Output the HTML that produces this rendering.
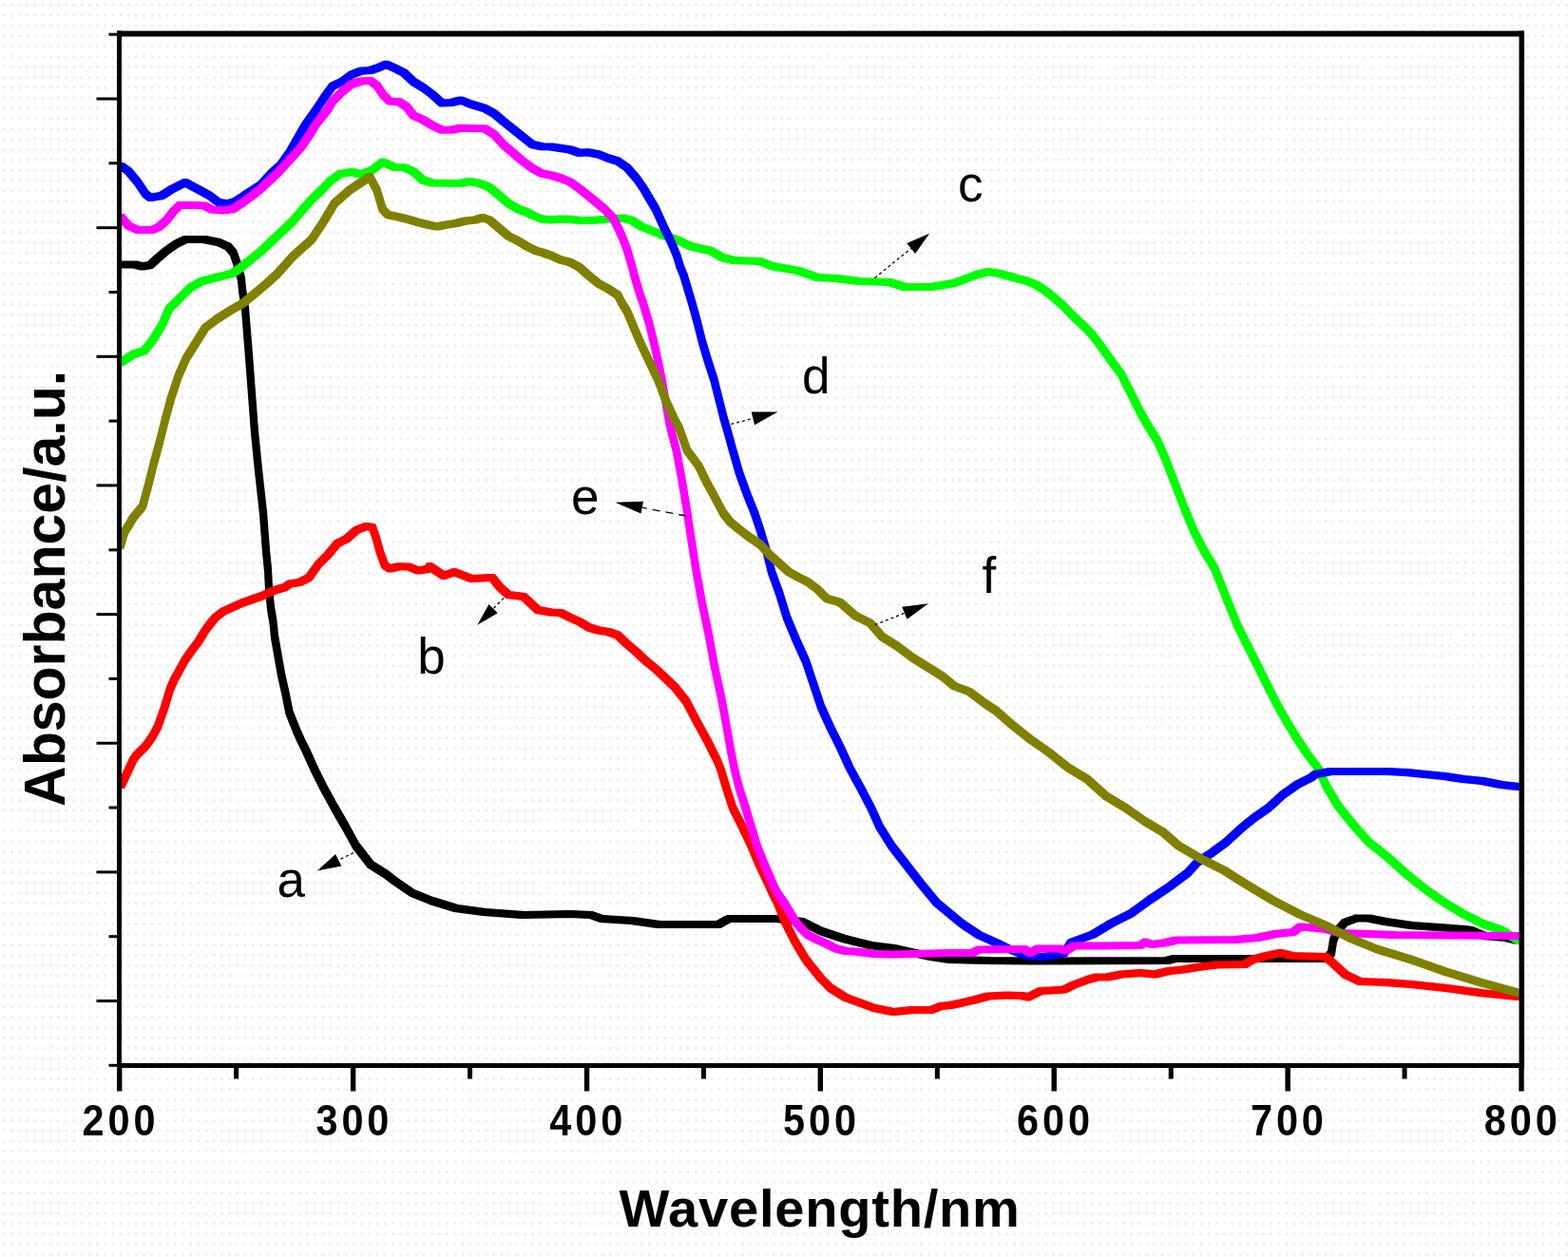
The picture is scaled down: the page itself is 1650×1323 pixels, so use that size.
<!DOCTYPE html>
<html><head><meta charset="utf-8"><title>Absorbance spectra</title>
<style>
html,body{margin:0;padding:0;background:#fff;}
body{width:1650px;height:1323px;overflow:hidden;}
svg{display:block;}
.tl{font-family:"Liberation Sans",Arial,sans-serif;font-weight:bold;font-size:46px;letter-spacing:4.4px;fill:#000;}
.ti{font-family:"Liberation Sans",Arial,sans-serif;font-weight:bold;fill:#000;}
.lb{font-family:"Liberation Sans",Arial,sans-serif;font-size:53px;fill:#000;}
</style></head><body>
<svg width="1650" height="1323" viewBox="0 0 1650 1323">
<defs><pattern id="dots" x="3" y="4" width="8.18" height="10.87" patternUnits="userSpaceOnUse"><rect x="0" y="0" width="2.6" height="2.6" fill="#ececec"/></pattern></defs>
<rect width="1650" height="1323" fill="#fff"/>
<rect width="1650" height="1323" fill="url(#dots)"/>
<path fill="#000000" stroke="#000000" stroke-width="4.4" stroke-linejoin="round" fill-rule="nonzero" d="M126.2 276.7L143.8 276.7L143.8 280.3L126.2 280.3ZM140.2 276.7L143.8 276.7L151.8 278.7L151.8 282.3L148.2 282.3L140.2 280.3ZM148.2 278.7L156.2 277.2L159.8 277.2L159.8 280.8L151.8 282.3L148.2 282.3ZM156.2 277.2L163.2 270.7L166.8 270.7L166.8 274.3L159.8 280.8L156.2 280.8ZM163.2 270.7L173.2 262.2L176.8 262.2L176.8 265.8L166.8 274.3L163.2 274.3ZM173.2 262.2L183.2 255.2L186.8 255.2L186.8 258.8L176.8 265.8L173.2 265.8ZM183.2 255.2L193.2 250.2L196.8 250.2L196.8 253.8L186.8 258.8L183.2 258.8ZM193.2 250.2L216.8 250.2L216.8 253.8L193.2 253.8ZM213.2 250.2L216.8 250.2L231.8 253.2L231.8 256.8L228.2 256.8L213.2 253.8ZM228.2 253.2L231.8 253.2L241.8 257.7L241.8 261.3L238.2 261.3L228.2 256.8ZM238.2 257.7L241.8 257.7L247.3 264.2L247.3 267.8L243.7 267.8L238.2 261.3ZM243.7 264.2L247.3 264.2L250.8 274.2L250.8 277.8L247.2 277.8L243.7 267.8ZM247.2 274.2L250.8 274.2L255.8 292.2L255.8 295.8L252.2 295.8L247.2 277.8ZM252.2 292.2L255.8 292.2L256.8 303.2L256.8 306.8L253.2 306.8L252.2 295.8ZM253.2 303.2L256.8 303.2L259.8 323.2L259.8 326.8L256.2 326.8L253.2 306.8ZM256.2 323.2L259.8 323.2L263.8 373.2L263.8 376.8L260.2 376.8L256.2 326.8ZM260.2 373.2L263.8 373.2L266.8 413.2L266.8 416.8L263.2 416.8L260.2 376.8ZM263.2 413.2L266.8 413.2L269.8 453.2L269.8 456.8L266.2 456.8L263.2 416.8ZM266.2 453.2L269.8 453.2L273.8 493.2L273.8 496.8L270.2 496.8L266.2 456.8ZM270.2 493.2L273.8 493.2L278.8 538.2L278.8 541.8L275.2 541.8L270.2 496.8ZM275.2 538.2L278.8 538.2L280.3 558.2L280.3 561.8L276.7 561.8L275.2 541.8ZM276.7 558.2L280.3 558.2L281.8 578.2L281.8 581.8L278.2 581.8L276.7 561.8ZM278.2 578.2L281.8 578.2L283.8 598.2L283.8 601.8L280.2 601.8L278.2 581.8ZM280.2 598.2L283.8 598.2L284.8 618.2L284.8 621.8L281.2 621.8L280.2 601.8ZM281.2 618.2L284.8 618.2L286.8 638.2L286.8 641.8L283.2 641.8L281.2 621.8ZM283.2 638.2L286.8 638.2L289.3 653.2L289.3 656.8L285.7 656.8L283.2 641.8ZM285.7 653.2L289.3 653.2L290.8 668.2L290.8 671.8L287.2 671.8L285.7 656.8ZM287.2 668.2L290.8 668.2L294.3 688.2L294.3 691.8L290.7 691.8L287.2 671.8ZM290.7 688.2L294.3 688.2L297.8 708.2L297.8 711.8L294.2 711.8L290.7 691.8ZM294.2 708.2L297.8 708.2L302.3 728.2L302.3 731.8L298.7 731.8L294.2 711.8ZM298.7 728.2L302.3 728.2L306.3 748.2L306.3 751.8L302.7 751.8L298.7 731.8ZM302.7 748.2L306.3 748.2L314.3 768.2L314.3 771.8L310.7 771.8L302.7 751.8ZM310.7 768.2L314.3 768.2L318.8 778.2L318.8 781.8L315.2 781.8L310.7 771.8ZM315.2 778.2L318.8 778.2L323.8 788.2L323.8 791.8L320.2 791.8L315.2 781.8ZM320.2 788.2L323.8 788.2L332.8 808.2L332.8 811.8L329.2 811.8L320.2 791.8ZM329.2 808.2L332.8 808.2L342.8 828.2L342.8 831.8L339.2 831.8L329.2 811.8ZM339.2 828.2L342.8 828.2L353.8 848.2L353.8 851.8L350.2 851.8L339.2 831.8ZM350.2 848.2L353.8 848.2L365.3 868.2L365.3 871.8L361.7 871.8L350.2 851.8ZM361.7 868.2L365.3 868.2L376.3 888.2L376.3 891.8L372.7 891.8L361.7 871.8ZM372.7 888.2L376.3 888.2L391.8 908.2L391.8 911.8L388.2 911.8L372.7 891.8ZM388.2 908.2L391.8 908.2L407.8 918.2L407.8 921.8L404.2 921.8L388.2 911.8ZM404.2 918.2L407.8 918.2L416.8 925.2L416.8 928.8L413.2 928.8L404.2 921.8ZM413.2 925.2L416.8 925.2L435.8 938.2L435.8 941.8L432.2 941.8L413.2 928.8ZM432.2 938.2L435.8 938.2L455.8 946.2L455.8 949.8L452.2 949.8L432.2 941.8ZM452.2 946.2L455.8 946.2L481.8 954.2L481.8 957.8L478.2 957.8L452.2 949.8ZM478.2 954.2L481.8 954.2L511.8 958.2L511.8 961.8L508.2 961.8L478.2 957.8ZM508.2 958.2L511.8 958.2L551.8 961.2L551.8 964.8L548.2 964.8L508.2 961.8ZM548.2 961.2L598.2 960.2L601.8 960.2L601.8 963.8L551.8 964.8L548.2 964.8ZM598.2 960.2L601.8 960.2L623.8 961.2L623.8 964.8L620.2 964.8L598.2 963.8ZM620.2 961.2L623.8 961.2L634.8 965.2L634.8 968.8L631.2 968.8L620.2 964.8ZM631.2 965.2L634.8 965.2L666.8 967.2L666.8 970.8L663.2 970.8L631.2 968.8ZM663.2 967.2L666.8 967.2L694.8 971.2L694.8 974.8L691.2 974.8L663.2 970.8ZM691.2 971.2L757.8 971.2L757.8 974.8L691.2 974.8ZM754.2 971.2L765.2 965.2L768.8 965.2L768.8 968.8L757.8 974.8L754.2 974.8ZM765.2 965.2L819.8 965.2L819.8 968.8L765.2 968.8ZM816.2 965.2L819.8 965.2L845.8 968.2L845.8 971.8L842.2 971.8L816.2 968.8ZM842.2 968.2L845.8 968.2L865.8 978.2L865.8 981.8L862.2 981.8L842.2 971.8ZM862.2 978.2L865.8 978.2L889.8 986.2L889.8 989.8L886.2 989.8L862.2 981.8ZM886.2 986.2L889.8 986.2L917.8 993.2L917.8 996.8L914.2 996.8L886.2 989.8ZM914.2 993.2L917.8 993.2L941.8 996.2L941.8 999.8L938.2 999.8L914.2 996.8ZM938.2 996.2L941.8 996.2L981.8 1005.2L981.8 1008.8L978.2 1008.8L938.2 999.8ZM978.2 1005.2L981.8 1005.2L1001.8 1008.2L1001.8 1011.8L998.2 1011.8L978.2 1008.8ZM998.2 1008.2L1001.8 1008.2L1041.8 1009.2L1041.8 1012.8L1038.2 1012.8L998.2 1011.8ZM1038.2 1009.2L1041.8 1009.2L1088.8 1009.7L1088.8 1013.3L1085.2 1013.3L1038.2 1012.8ZM1085.2 1009.7L1226.2 1009.2L1229.8 1009.2L1229.8 1012.8L1088.8 1013.3L1085.2 1013.3ZM1226.2 1009.2L1234.2 1007.2L1237.8 1007.2L1237.8 1010.8L1229.8 1012.8L1226.2 1012.8ZM1234.2 1007.2L1397.8 1007.2L1397.8 1010.8L1234.2 1010.8ZM1394.2 1007.2L1399.2 1001.2L1402.8 1001.2L1402.8 1004.8L1397.8 1010.8L1394.2 1010.8ZM1399.2 1001.2L1401.2 988.2L1404.8 988.2L1404.8 991.8L1402.8 1004.8L1399.2 1004.8ZM1401.2 988.2L1405.2 978.2L1408.8 978.2L1408.8 981.8L1404.8 991.8L1401.2 991.8ZM1405.2 978.2L1413.2 969.2L1416.8 969.2L1416.8 972.8L1408.8 981.8L1405.2 981.8ZM1413.2 969.2L1425.2 964.7L1428.8 964.7L1428.8 968.3L1416.8 972.8L1413.2 972.8ZM1425.2 964.7L1441.8 964.7L1441.8 968.3L1425.2 968.3ZM1438.2 964.7L1441.8 964.7L1459.8 968.2L1459.8 971.8L1456.2 971.8L1438.2 968.3ZM1456.2 968.2L1459.8 968.2L1486.8 972.2L1486.8 975.8L1483.2 975.8L1456.2 971.8ZM1483.2 972.2L1486.8 972.2L1514.8 974.2L1514.8 977.8L1511.2 977.8L1483.2 975.8ZM1511.2 974.2L1514.8 974.2L1541.8 976.2L1541.8 979.8L1538.2 979.8L1511.2 977.8ZM1538.2 976.2L1541.8 976.2L1549.8 977.2L1549.8 980.8L1546.2 980.8L1538.2 979.8ZM1546.2 977.2L1549.8 977.2L1563.8 983.2L1563.8 986.8L1560.2 986.8L1546.2 980.8ZM1560.2 983.2L1563.8 983.2L1586.8 985.2L1586.8 988.8L1583.2 988.8L1560.2 986.8ZM1583.2 985.2L1586.8 985.2L1599.8 988.2L1599.8 991.8L1596.2 991.8L1583.2 988.8Z"/>
<path fill="#ff0000" stroke="#ff0000" stroke-width="4.4" stroke-linejoin="round" fill-rule="nonzero" d="M126.2 824.2L132.2 811.2L135.8 811.2L135.8 814.8L129.8 827.8L126.2 827.8ZM132.2 811.2L138.2 798.2L141.8 798.2L141.8 801.8L135.8 814.8L132.2 814.8ZM138.2 798.2L141.7 793.2L145.3 793.2L145.3 796.8L141.8 801.8L138.2 801.8ZM141.7 793.2L151.7 783.2L155.3 783.2L155.3 786.8L145.3 796.8L141.7 796.8ZM151.7 783.2L158.7 773.2L162.3 773.2L162.3 776.8L155.3 786.8L151.7 786.8ZM158.7 773.2L164.2 763.2L167.8 763.2L167.8 766.8L162.3 776.8L158.7 776.8ZM164.2 763.2L167.7 753.2L171.3 753.2L171.3 756.8L167.8 766.8L164.2 766.8ZM167.7 753.2L171.2 743.2L174.8 743.2L174.8 746.8L171.3 756.8L167.7 756.8ZM171.2 743.2L174.2 733.2L177.8 733.2L177.8 736.8L174.8 746.8L171.2 746.8ZM174.2 733.2L177.2 723.2L180.8 723.2L180.8 726.8L177.8 736.8L174.2 736.8ZM177.2 723.2L181.7 713.2L185.3 713.2L185.3 716.8L180.8 726.8L177.2 726.8ZM181.7 713.2L187.2 703.2L190.8 703.2L190.8 706.8L185.3 716.8L181.7 716.8ZM187.2 703.2L192.7 693.2L196.3 693.2L196.3 696.8L190.8 706.8L187.2 706.8ZM192.7 693.2L199.7 683.2L203.3 683.2L203.3 686.8L196.3 696.8L192.7 696.8ZM199.7 683.2L207.2 673.2L210.8 673.2L210.8 676.8L203.3 686.8L199.7 686.8ZM207.2 673.2L213.2 663.2L216.8 663.2L216.8 666.8L210.8 676.8L207.2 676.8ZM213.2 663.2L216.7 658.2L220.3 658.2L220.3 661.8L216.8 666.8L213.2 666.8ZM216.7 658.2L224.7 648.2L228.3 648.2L228.3 651.8L220.3 661.8L216.7 661.8ZM224.7 648.2L233.2 641.7L236.8 641.7L236.8 645.3L228.3 651.8L224.7 651.8ZM233.2 641.7L253.2 632.7L256.8 632.7L256.8 636.3L236.8 645.3L233.2 645.3ZM253.2 632.7L273.2 625.7L276.8 625.7L276.8 629.3L256.8 636.3L253.2 636.3ZM273.2 625.7L288.2 619.2L291.8 619.2L291.8 622.8L276.8 629.3L273.2 629.3ZM288.2 619.2L298.2 616.2L301.8 616.2L301.8 619.8L291.8 622.8L288.2 622.8ZM298.2 616.2L303.2 612.7L306.8 612.7L306.8 616.3L301.8 619.8L298.2 619.8ZM303.2 612.7L313.2 611.2L316.8 611.2L316.8 614.8L306.8 616.3L303.2 616.3ZM313.2 611.2L323.2 606.2L326.8 606.2L326.8 609.8L316.8 614.8L313.2 614.8ZM323.2 606.2L333.2 592.2L336.8 592.2L336.8 595.8L326.8 609.8L323.2 609.8ZM333.2 592.2L343.2 582.2L346.8 582.2L346.8 585.8L336.8 595.8L333.2 595.8ZM343.2 582.2L353.2 570.2L356.8 570.2L356.8 573.8L346.8 585.8L343.2 585.8ZM353.2 570.2L363.2 565.2L366.8 565.2L366.8 568.8L356.8 573.8L353.2 573.8ZM363.2 565.2L373.2 556.2L376.8 556.2L376.8 559.8L366.8 568.8L363.2 568.8ZM373.2 556.2L383.2 552.2L386.8 552.2L386.8 555.8L376.8 559.8L373.2 559.8ZM383.2 552.2L386.8 552.2L393.8 553.2L393.8 556.8L390.2 556.8L383.2 555.8ZM390.2 553.2L393.8 553.2L397.8 565.2L397.8 568.8L394.2 568.8L390.2 556.8ZM394.2 565.2L397.8 565.2L401.8 579.7L401.8 583.3L398.2 583.3L394.2 568.8ZM398.2 579.7L401.8 579.7L406.8 593.2L406.8 596.8L403.2 596.8L398.2 583.3ZM403.2 593.2L406.8 593.2L411.8 596.7L411.8 600.3L408.2 600.3L403.2 596.8ZM408.2 596.7L418.2 594.4L421.8 594.4L421.8 598L411.8 600.3L408.2 600.3ZM418.2 594.4L421.8 594.4L431.8 594.7L431.8 598.3L428.2 598.3L418.2 598ZM428.2 594.7L431.8 594.7L441.8 598.7L441.8 602.3L438.2 602.3L428.2 598.3ZM438.2 598.7L448.2 597.2L451.8 597.2L451.8 600.8L441.8 602.3L438.2 602.3ZM448.2 597.2L450.2 594.2L453.8 594.2L453.8 597.8L451.8 600.8L448.2 600.8ZM450.2 594.2L453.8 594.2L468.8 604.2L468.8 607.8L465.2 607.8L450.2 597.8ZM465.2 604.2L476.2 600.2L479.8 600.2L479.8 603.8L468.8 607.8L465.2 607.8ZM476.2 600.2L479.8 600.2L497.8 607.2L497.8 610.8L494.2 610.8L476.2 603.8ZM494.2 607.2L516.2 606.2L519.8 606.2L519.8 609.8L497.8 610.8L494.2 610.8ZM516.2 606.2L519.8 606.2L527.8 616.2L527.8 619.8L524.2 619.8L516.2 609.8ZM524.2 616.2L527.8 616.2L536.8 624.2L536.8 627.8L533.2 627.8L524.2 619.8ZM533.2 624.2L536.8 624.2L552.8 626.2L552.8 629.8L549.2 629.8L533.2 627.8ZM549.2 626.2L552.8 626.2L567.8 640.2L567.8 643.8L564.2 643.8L549.2 629.8ZM564.2 640.2L567.8 640.2L581.8 642.7L581.8 646.3L578.2 646.3L564.2 643.8ZM578.2 642.7L581.8 642.7L591.8 643.2L591.8 646.8L588.2 646.8L578.2 646.3ZM588.2 643.2L591.8 643.2L601.8 648.2L601.8 651.8L598.2 651.8L588.2 646.8ZM598.2 648.2L601.8 648.2L611.8 652.7L611.8 656.3L608.2 656.3L598.2 651.8ZM608.2 652.7L611.8 652.7L621.8 658.7L621.8 662.3L618.2 662.3L608.2 656.3ZM618.2 658.7L621.8 658.7L631.8 661.7L631.8 665.3L628.2 665.3L618.2 662.3ZM628.2 661.7L631.8 661.7L641.8 663.2L641.8 666.8L638.2 666.8L628.2 665.3ZM638.2 663.2L641.8 663.2L651.8 666.7L651.8 670.3L648.2 670.3L638.2 666.8ZM648.2 666.7L651.8 666.7L661.8 676.2L661.8 679.8L658.2 679.8L648.2 670.3ZM658.2 676.2L661.8 676.2L671.8 684.7L671.8 688.3L668.2 688.3L658.2 679.8ZM668.2 684.7L671.8 684.7L681.8 694.2L681.8 697.8L678.2 697.8L668.2 688.3ZM678.2 694.2L681.8 694.2L691.8 702.2L691.8 705.8L688.2 705.8L678.2 697.8ZM688.2 702.2L691.8 702.2L701.8 711.7L701.8 715.3L698.2 715.3L688.2 705.8ZM698.2 711.7L701.8 711.7L711.8 721.2L711.8 724.8L708.2 724.8L698.2 715.3ZM708.2 721.2L711.8 721.2L723.8 736.2L723.8 739.8L720.2 739.8L708.2 724.8ZM720.2 736.2L723.8 736.2L735.3 758.2L735.3 761.8L731.7 761.8L720.2 739.8ZM731.7 758.2L735.3 758.2L746.3 778.2L746.3 781.8L742.7 781.8L731.7 761.8ZM742.7 778.2L746.3 778.2L756.3 798.2L756.3 801.8L752.7 801.8L742.7 781.8ZM752.7 798.2L756.3 798.2L760.3 808.2L760.3 811.8L756.7 811.8L752.7 801.8ZM756.7 808.2L760.3 808.2L766.3 828.2L766.3 831.8L762.7 831.8L756.7 811.8ZM762.7 828.2L766.3 828.2L772.8 848.2L772.8 851.8L769.2 851.8L762.7 831.8ZM769.2 848.2L772.8 848.2L782.8 868.2L782.8 871.8L779.2 871.8L769.2 851.8ZM779.2 868.2L782.8 868.2L792.3 888.2L792.3 891.8L788.7 891.8L779.2 871.8ZM788.7 888.2L792.3 888.2L800.8 908.2L800.8 911.8L797.2 911.8L788.7 891.8ZM797.2 908.2L800.8 908.2L810.3 928.2L810.3 931.8L806.7 931.8L797.2 911.8ZM806.7 928.2L810.3 928.2L814.8 938.2L814.8 941.8L811.2 941.8L806.7 931.8ZM811.2 938.2L814.8 938.2L819.8 948.2L819.8 951.8L816.2 951.8L811.2 941.8ZM816.2 948.2L819.8 948.2L827.8 968.2L827.8 971.8L824.2 971.8L816.2 951.8ZM824.2 968.2L827.8 968.2L837.8 988.2L837.8 991.8L834.2 991.8L824.2 971.8ZM834.2 988.2L837.8 988.2L849.8 1008.2L849.8 1011.8L846.2 1011.8L834.2 991.8ZM846.2 1008.2L849.8 1008.2L865.8 1028.2L865.8 1031.8L862.2 1031.8L846.2 1011.8ZM862.2 1028.2L865.8 1028.2L875.8 1038.2L875.8 1041.8L872.2 1041.8L862.2 1031.8ZM872.2 1038.2L875.8 1038.2L891.8 1048.2L891.8 1051.8L888.2 1051.8L872.2 1041.8ZM888.2 1048.2L891.8 1048.2L906.8 1053.7L906.8 1057.3L903.2 1057.3L888.2 1051.8ZM903.2 1053.7L906.8 1053.7L921.8 1059.2L921.8 1062.8L918.2 1062.8L903.2 1057.3ZM918.2 1059.2L921.8 1059.2L941.8 1063.2L941.8 1066.8L938.2 1066.8L918.2 1062.8ZM938.2 1063.2L958.2 1061.2L961.8 1061.2L961.8 1064.8L941.8 1066.8L938.2 1066.8ZM958.2 1061.2L981.8 1061.2L981.8 1064.8L958.2 1064.8ZM978.2 1061.2L988.2 1057.2L991.8 1057.2L991.8 1060.8L981.8 1064.8L978.2 1064.8ZM988.2 1057.2L998.2 1056.2L1001.8 1056.2L1001.8 1059.8L991.8 1060.8L988.2 1060.8ZM998.2 1056.2L1008.2 1054.2L1011.8 1054.2L1011.8 1057.8L1001.8 1059.8L998.2 1059.8ZM1008.2 1054.2L1023.2 1050.7L1026.8 1050.7L1026.8 1054.3L1011.8 1057.8L1008.2 1057.8ZM1023.2 1050.7L1038.2 1046.7L1041.8 1046.7L1041.8 1050.3L1026.8 1054.3L1023.2 1054.3ZM1038.2 1046.7L1058.2 1045.7L1061.8 1045.7L1061.8 1049.3L1041.8 1050.3L1038.2 1050.3ZM1058.2 1045.7L1061.8 1045.7L1076.8 1046.2L1076.8 1049.8L1073.2 1049.8L1058.2 1049.3ZM1073.2 1046.2L1076.8 1046.2L1083.8 1047.7L1083.8 1051.3L1080.2 1051.3L1073.2 1049.8ZM1080.2 1047.7L1093.2 1041.2L1096.8 1041.2L1096.8 1044.8L1083.8 1051.3L1080.2 1051.3ZM1093.2 1041.2L1108.2 1040.4L1111.8 1040.4L1111.8 1044L1096.8 1044.8L1093.2 1044.8ZM1108.2 1040.4L1118.2 1039.7L1121.8 1039.7L1121.8 1043.3L1111.8 1044L1108.2 1044ZM1118.2 1039.7L1128.2 1034.7L1131.8 1034.7L1131.8 1038.3L1121.8 1043.3L1118.2 1043.3ZM1128.2 1034.7L1143.2 1029.2L1146.8 1029.2L1146.8 1032.8L1131.8 1038.3L1128.2 1038.3ZM1143.2 1029.2L1152.2 1026.7L1155.8 1026.7L1155.8 1030.3L1146.8 1032.8L1143.2 1032.8ZM1152.2 1026.7L1166.8 1026.7L1166.8 1030.3L1152.2 1030.3ZM1163.2 1026.7L1178.2 1023.7L1181.8 1023.7L1181.8 1027.3L1166.8 1030.3L1163.2 1030.3ZM1178.2 1023.7L1198.2 1022.2L1201.8 1022.2L1201.8 1025.8L1181.8 1027.3L1178.2 1027.3ZM1198.2 1022.2L1201.8 1022.2L1216.8 1023.7L1216.8 1027.3L1213.2 1027.3L1198.2 1025.8ZM1213.2 1023.7L1228.2 1020.2L1231.8 1020.2L1231.8 1023.8L1216.8 1027.3L1213.2 1027.3ZM1228.2 1020.2L1243.2 1018.7L1246.8 1018.7L1246.8 1022.3L1231.8 1023.8L1228.2 1023.8ZM1243.2 1018.7L1258.2 1016.2L1261.8 1016.2L1261.8 1019.8L1246.8 1022.3L1243.2 1022.3ZM1258.2 1016.2L1278.2 1013.7L1281.8 1013.7L1281.8 1017.3L1261.8 1019.8L1258.2 1019.8ZM1278.2 1013.7L1308.2 1013.2L1311.8 1013.2L1311.8 1016.8L1281.8 1017.3L1278.2 1017.3ZM1308.2 1013.2L1316.2 1008.2L1319.8 1008.2L1319.8 1011.8L1311.8 1016.8L1308.2 1016.8ZM1316.2 1008.2L1331.2 1004.2L1334.8 1004.2L1334.8 1007.8L1319.8 1011.8L1316.2 1011.8ZM1331.2 1004.2L1345.2 1001.2L1348.8 1001.2L1348.8 1004.8L1334.8 1007.8L1331.2 1007.8ZM1345.2 1001.2L1348.8 1001.2L1361.8 1004.2L1361.8 1007.8L1358.2 1007.8L1345.2 1004.8ZM1358.2 1004.2L1361.8 1004.2L1396.8 1005.2L1396.8 1008.8L1393.2 1008.8L1358.2 1007.8ZM1393.2 1005.2L1396.8 1005.2L1405.8 1013.2L1405.8 1016.8L1402.2 1016.8L1393.2 1008.8ZM1402.2 1013.2L1405.8 1013.2L1417.8 1024.2L1417.8 1027.8L1414.2 1027.8L1402.2 1016.8ZM1414.2 1024.2L1417.8 1024.2L1432.8 1031.2L1432.8 1034.8L1429.2 1034.8L1414.2 1027.8ZM1429.2 1031.2L1432.8 1031.2L1459.8 1032.2L1459.8 1035.8L1456.2 1035.8L1429.2 1034.8ZM1456.2 1032.2L1459.8 1032.2L1486.8 1034.2L1486.8 1037.8L1483.2 1037.8L1456.2 1035.8ZM1483.2 1034.2L1486.8 1034.2L1523.8 1038.2L1523.8 1041.8L1520.2 1041.8L1483.2 1037.8ZM1520.2 1038.2L1523.8 1038.2L1559.8 1043.2L1559.8 1046.8L1556.2 1046.8L1520.2 1041.8ZM1556.2 1043.2L1559.8 1043.2L1599.8 1047.2L1599.8 1050.8L1596.2 1050.8L1556.2 1046.8Z"/>
<path fill="#00ff00" stroke="#00ff00" stroke-width="4.4" stroke-linejoin="round" fill-rule="nonzero" d="M126.2 379.2L138.2 371.2L141.8 371.2L141.8 374.8L129.8 382.8L126.2 382.8ZM138.2 371.2L150.2 367.2L153.8 367.2L153.8 370.8L141.8 374.8L138.2 374.8ZM150.2 367.2L158.2 357.2L161.8 357.2L161.8 360.8L153.8 370.8L150.2 370.8ZM158.2 357.2L168.2 341.2L171.8 341.2L171.8 344.8L161.8 360.8L158.2 360.8ZM168.2 341.2L176.2 323.2L179.8 323.2L179.8 326.8L171.8 344.8L168.2 344.8ZM176.2 323.2L188.2 311.2L191.8 311.2L191.8 314.8L179.8 326.8L176.2 326.8ZM188.2 311.2L198.2 301.2L201.8 301.2L201.8 304.8L191.8 314.8L188.2 314.8ZM198.2 301.2L210.2 294.2L213.8 294.2L213.8 297.8L201.8 304.8L198.2 304.8ZM210.2 294.2L230.2 289.2L233.8 289.2L233.8 292.8L213.8 297.8L210.2 297.8ZM230.2 289.2L242.2 286.2L245.8 286.2L245.8 289.8L233.8 292.8L230.2 292.8ZM242.2 286.2L249.2 281.7L252.8 281.7L252.8 285.3L245.8 289.8L242.2 289.8ZM249.2 281.7L257.2 275.2L260.8 275.2L260.8 278.8L252.8 285.3L249.2 285.3ZM257.2 275.2L264.7 269.2L268.3 269.2L268.3 272.8L260.8 278.8L257.2 278.8ZM264.7 269.2L272.2 263.2L275.8 263.2L275.8 266.8L268.3 272.8L264.7 272.8ZM272.2 263.2L290.2 246.2L293.8 246.2L293.8 249.8L275.8 266.8L272.2 266.8ZM290.2 246.2L306.2 231.2L309.8 231.2L309.8 234.8L293.8 249.8L290.2 249.8ZM306.2 231.2L317.2 218.2L320.8 218.2L320.8 221.8L309.8 234.8L306.2 234.8ZM317.2 218.2L326.2 208.2L329.8 208.2L329.8 211.8L320.8 221.8L317.2 221.8ZM326.2 208.2L336.7 198.2L340.3 198.2L340.3 201.8L329.8 211.8L326.2 211.8ZM336.7 198.2L346.2 188.2L349.8 188.2L349.8 191.8L340.3 201.8L336.7 201.8ZM346.2 188.2L356.2 181.2L359.8 181.2L359.8 184.8L349.8 191.8L346.2 191.8ZM356.2 181.2L368.2 179.2L371.8 179.2L371.8 182.8L359.8 184.8L356.2 184.8ZM368.2 179.2L371.8 179.2L381.8 181.7L381.8 185.3L378.2 185.3L368.2 182.8ZM378.2 181.7L388.2 178.2L391.8 178.2L391.8 181.8L381.8 185.3L378.2 185.3ZM388.2 178.2L401.2 168.7L404.8 168.7L404.8 172.3L391.8 181.8L388.2 181.8ZM401.2 168.7L404.8 168.7L416.8 174.2L416.8 177.8L413.2 177.8L401.2 172.3ZM413.2 174.2L416.8 174.2L426.8 174.4L426.8 178L423.2 178L413.2 177.8ZM423.2 174.4L426.8 174.4L436.8 178.7L436.8 182.3L433.2 182.3L423.2 178ZM433.2 178.7L436.8 178.7L446.8 187.7L446.8 191.3L443.2 191.3L433.2 182.3ZM443.2 187.7L446.8 187.7L456.8 190.7L456.8 194.3L453.2 194.3L443.2 191.3ZM453.2 190.7L456.8 190.7L471.8 190.9L471.8 194.5L468.2 194.5L453.2 194.3ZM468.2 190.9L471.8 190.9L486.8 191.2L486.8 194.8L483.2 194.8L468.2 194.5ZM483.2 191.2L492.2 189.2L495.8 189.2L495.8 192.8L486.8 194.8L483.2 194.8ZM492.2 189.2L495.8 189.2L506.8 191.2L506.8 194.8L503.2 194.8L492.2 192.8ZM503.2 191.2L506.8 191.2L516.8 195.2L516.8 198.8L513.2 198.8L503.2 194.8ZM513.2 195.2L516.8 195.2L526.8 203.7L526.8 207.3L523.2 207.3L513.2 198.8ZM523.2 203.7L526.8 203.7L536.8 212.2L536.8 215.8L533.2 215.8L523.2 207.3ZM533.2 212.2L536.8 212.2L546.8 218.2L546.8 221.8L543.2 221.8L533.2 215.8ZM543.2 218.2L546.8 218.2L556.8 221.7L556.8 225.3L553.2 225.3L543.2 221.8ZM553.2 221.7L556.8 221.7L561.8 224.7L561.8 228.3L558.2 228.3L553.2 225.3ZM558.2 224.7L561.8 224.7L571.8 228.7L571.8 232.3L568.2 232.3L558.2 228.3ZM568.2 228.7L571.8 228.7L581.8 229.7L581.8 233.3L578.2 233.3L568.2 232.3ZM578.2 229.7L588.2 228.7L591.8 228.7L591.8 232.3L581.8 233.3L578.2 233.3ZM588.2 228.7L591.8 228.7L601.8 228.9L601.8 232.5L598.2 232.5L588.2 232.3ZM598.2 228.9L601.8 228.9L611.8 230.2L611.8 233.8L608.2 233.8L598.2 232.5ZM608.2 230.2L621.8 230.2L621.8 233.8L608.2 233.8ZM618.2 230.2L628.2 229.7L631.8 229.7L631.8 233.3L621.8 233.8L618.2 233.8ZM628.2 229.7L643.2 228.2L646.8 228.2L646.8 231.8L631.8 233.3L628.2 233.3ZM643.2 228.2L653.2 227.7L656.8 227.7L656.8 231.3L646.8 231.8L643.2 231.8ZM653.2 227.7L656.8 227.7L666.8 230.2L666.8 233.8L663.2 233.8L653.2 231.3ZM663.2 230.2L666.8 230.2L676.8 236.7L676.8 240.3L673.2 240.3L663.2 233.8ZM673.2 236.7L676.8 236.7L686.8 240.7L686.8 244.3L683.2 244.3L673.2 240.3ZM683.2 240.7L686.8 240.7L696.8 244.7L696.8 248.3L693.2 248.3L683.2 244.3ZM693.2 244.7L696.8 244.7L706.8 248.2L706.8 251.8L703.2 251.8L693.2 248.3ZM703.2 248.2L706.8 248.2L716.8 251.7L716.8 255.3L713.2 255.3L703.2 251.8ZM713.2 251.7L716.8 251.7L725.8 256.2L725.8 259.8L722.2 259.8L713.2 255.3ZM722.2 256.2L725.8 256.2L731.8 258.2L731.8 261.8L728.2 261.8L722.2 259.8ZM728.2 258.2L731.8 258.2L749.8 262.2L749.8 265.8L746.2 265.8L728.2 261.8ZM746.2 262.2L749.8 262.2L761.8 269.2L761.8 272.8L758.2 272.8L746.2 265.8ZM758.2 269.2L761.8 269.2L773.8 272.2L773.8 275.8L770.2 275.8L758.2 272.8ZM770.2 272.2L773.8 272.2L801.8 273.2L801.8 276.8L798.2 276.8L770.2 275.8ZM798.2 273.2L801.8 273.2L813.8 278.2L813.8 281.8L810.2 281.8L798.2 276.8ZM810.2 278.2L813.8 278.2L841.8 283.2L841.8 286.8L838.2 286.8L810.2 281.8ZM838.2 283.2L841.8 283.2L861.8 290.2L861.8 293.8L858.2 293.8L838.2 286.8ZM858.2 290.2L861.8 290.2L881.8 291.2L881.8 294.8L878.2 294.8L858.2 293.8ZM878.2 291.2L881.8 291.2L905.8 294.2L905.8 297.8L902.2 297.8L878.2 294.8ZM902.2 294.2L905.8 294.2L937.8 295.2L937.8 298.8L934.2 298.8L902.2 297.8ZM934.2 295.2L937.8 295.2L953.8 300.2L953.8 303.8L950.2 303.8L934.2 298.8ZM950.2 300.2L981.8 300.2L981.8 303.8L950.2 303.8ZM978.2 300.2L1002.2 296.2L1005.8 296.2L1005.8 299.8L981.8 303.8L978.2 303.8ZM1002.2 296.2L1026.2 287.2L1029.8 287.2L1029.8 290.8L1005.8 299.8L1002.2 299.8ZM1026.2 287.2L1038.2 284.2L1041.8 284.2L1041.8 287.8L1029.8 290.8L1026.2 290.8ZM1038.2 284.2L1041.8 284.2L1053.8 286.2L1053.8 289.8L1050.2 289.8L1038.2 287.8ZM1050.2 286.2L1053.8 286.2L1073.8 291.7L1073.8 295.3L1070.2 295.3L1050.2 289.8ZM1070.2 291.7L1073.8 291.7L1081.8 293.7L1081.8 297.3L1078.2 297.3L1070.2 295.3ZM1078.2 293.7L1081.8 293.7L1091.8 297.7L1091.8 301.3L1088.2 301.3L1078.2 297.3ZM1088.2 297.7L1091.8 297.7L1101.8 304.2L1101.8 307.8L1098.2 307.8L1088.2 301.3ZM1098.2 304.2L1101.8 304.2L1111.8 312.2L1111.8 315.8L1108.2 315.8L1098.2 307.8ZM1108.2 312.2L1111.8 312.2L1121.8 321.2L1121.8 324.8L1118.2 324.8L1108.2 315.8ZM1118.2 321.2L1121.8 321.2L1131.8 331.7L1131.8 335.3L1128.2 335.3L1118.2 324.8ZM1128.2 331.7L1131.8 331.7L1141.8 340.7L1141.8 344.3L1138.2 344.3L1128.2 335.3ZM1138.2 340.7L1141.8 340.7L1151.8 351.2L1151.8 354.8L1148.2 354.8L1138.2 344.3ZM1148.2 351.2L1151.8 351.2L1161.8 364.7L1161.8 368.3L1158.2 368.3L1148.2 354.8ZM1158.2 364.7L1161.8 364.7L1171.8 378.7L1171.8 382.3L1168.2 382.3L1158.2 368.3ZM1168.2 378.7L1171.8 378.7L1181.8 392.2L1181.8 395.8L1178.2 395.8L1168.2 382.3ZM1178.2 392.2L1181.8 392.2L1185.8 400.2L1185.8 403.8L1182.2 403.8L1178.2 395.8ZM1182.2 400.2L1185.8 400.2L1193.8 416.2L1193.8 419.8L1190.2 419.8L1182.2 403.8ZM1190.2 416.2L1193.8 416.2L1201.8 432.2L1201.8 435.8L1198.2 435.8L1190.2 419.8ZM1198.2 432.2L1201.8 432.2L1209.8 446.2L1209.8 449.8L1206.2 449.8L1198.2 435.8ZM1206.2 446.2L1209.8 446.2L1219.8 462.2L1219.8 465.8L1216.2 465.8L1206.2 449.8ZM1216.2 462.2L1219.8 462.2L1227.8 480.2L1227.8 483.8L1224.2 483.8L1216.2 465.8ZM1224.2 480.2L1227.8 480.2L1237.8 506.2L1237.8 509.8L1234.2 509.8L1224.2 483.8ZM1234.2 506.2L1237.8 506.2L1247.8 532.2L1247.8 535.8L1244.2 535.8L1234.2 509.8ZM1244.2 532.2L1247.8 532.2L1257.8 556.2L1257.8 559.8L1254.2 559.8L1244.2 535.8ZM1254.2 556.2L1257.8 556.2L1267.8 576.2L1267.8 579.8L1264.2 579.8L1254.2 559.8ZM1264.2 576.2L1267.8 576.2L1279.8 596.2L1279.8 599.8L1276.2 599.8L1264.2 579.8ZM1276.2 596.2L1279.8 596.2L1287.8 616.2L1287.8 619.8L1284.2 619.8L1276.2 599.8ZM1284.2 616.2L1287.8 616.2L1295.8 636.2L1295.8 639.8L1292.2 639.8L1284.2 619.8ZM1292.2 636.2L1295.8 636.2L1303.8 656.2L1303.8 659.8L1300.2 659.8L1292.2 639.8ZM1300.2 656.2L1303.8 656.2L1313.8 676.2L1313.8 679.8L1310.2 679.8L1300.2 659.8ZM1310.2 676.2L1313.8 676.2L1323.8 696.2L1323.8 699.8L1320.2 699.8L1310.2 679.8ZM1320.2 696.2L1323.8 696.2L1333.8 716.2L1333.8 719.8L1330.2 719.8L1320.2 699.8ZM1330.2 716.2L1333.8 716.2L1343.8 736.2L1343.8 739.8L1340.2 739.8L1330.2 719.8ZM1340.2 736.2L1343.8 736.2L1353.8 754.2L1353.8 757.8L1350.2 757.8L1340.2 739.8ZM1350.2 754.2L1353.8 754.2L1365.8 774.2L1365.8 777.8L1362.2 777.8L1350.2 757.8ZM1362.2 774.2L1365.8 774.2L1377.8 792.2L1377.8 795.8L1374.2 795.8L1362.2 777.8ZM1374.2 792.2L1377.8 792.2L1389.8 808.2L1389.8 811.8L1386.2 811.8L1374.2 795.8ZM1386.2 808.2L1389.8 808.2L1397.8 826.2L1397.8 829.8L1394.2 829.8L1386.2 811.8ZM1394.2 826.2L1397.8 826.2L1409.8 846.2L1409.8 849.8L1406.2 849.8L1394.2 829.8ZM1406.2 846.2L1409.8 846.2L1425.8 866.2L1425.8 869.8L1422.2 869.8L1406.2 849.8ZM1422.2 866.2L1425.8 866.2L1441.8 884.2L1441.8 887.8L1438.2 887.8L1422.2 869.8ZM1438.2 884.2L1441.8 884.2L1461.8 900.2L1461.8 903.8L1458.2 903.8L1438.2 887.8ZM1458.2 900.2L1461.8 900.2L1481.8 918.2L1481.8 921.8L1478.2 921.8L1458.2 903.8ZM1478.2 918.2L1481.8 918.2L1501.8 934.2L1501.8 937.8L1498.2 937.8L1478.2 921.8ZM1498.2 934.2L1501.8 934.2L1521.8 948.2L1521.8 951.8L1518.2 951.8L1498.2 937.8ZM1518.2 948.2L1521.8 948.2L1541.8 960.2L1541.8 963.8L1538.2 963.8L1518.2 951.8ZM1538.2 960.2L1541.8 960.2L1561.8 970.2L1561.8 973.8L1558.2 973.8L1538.2 963.8ZM1558.2 970.2L1561.8 970.2L1581.8 977.2L1581.8 980.8L1578.2 980.8L1558.2 973.8ZM1578.2 977.2L1581.8 977.2L1599.8 988.2L1599.8 991.8L1596.2 991.8L1578.2 980.8Z"/>
<path fill="#0000ff" stroke="#0000ff" stroke-width="4.4" stroke-linejoin="round" fill-rule="nonzero" d="M126.2 173.2L129.8 173.2L136.8 178.2L136.8 181.8L133.2 181.8L126.2 176.8ZM133.2 178.2L136.8 178.2L146.8 190.2L146.8 193.8L143.2 193.8L133.2 181.8ZM143.2 190.2L146.8 190.2L154.8 202.2L154.8 205.8L151.2 205.8L143.2 193.8ZM151.2 202.2L154.8 202.2L159.8 206.2L159.8 209.8L156.2 209.8L151.2 205.8ZM156.2 206.2L168.2 204.2L171.8 204.2L171.8 207.8L159.8 209.8L156.2 209.8ZM168.2 204.2L179.2 197.2L182.8 197.2L182.8 200.8L171.8 207.8L168.2 207.8ZM179.2 197.2L193.2 190.2L196.8 190.2L196.8 193.8L182.8 200.8L179.2 200.8ZM193.2 190.2L196.8 190.2L208.8 196.7L208.8 200.3L205.2 200.3L193.2 193.8ZM205.2 196.7L208.8 196.7L221.8 203.7L221.8 207.3L218.2 207.3L205.2 200.3ZM218.2 203.7L221.8 203.7L231.8 211.2L231.8 214.8L228.2 214.8L218.2 207.3ZM228.2 211.2L231.8 211.2L241.8 212.7L241.8 216.3L238.2 216.3L228.2 214.8ZM238.2 212.7L246.2 210.2L249.8 210.2L249.8 213.8L241.8 216.3L238.2 216.3ZM246.2 210.2L258.2 202.2L261.8 202.2L261.8 205.8L249.8 213.8L246.2 213.8ZM258.2 202.2L272.2 193.2L275.8 193.2L275.8 196.8L261.8 205.8L258.2 205.8ZM272.2 193.2L283.2 181.2L286.8 181.2L286.8 184.8L275.8 196.8L272.2 196.8ZM283.2 181.2L293.2 172.2L296.8 172.2L296.8 175.8L286.8 184.8L283.2 184.8ZM293.2 172.2L303.2 158.2L306.8 158.2L306.8 161.8L296.8 175.8L293.2 175.8ZM303.2 158.2L311.2 144.2L314.8 144.2L314.8 147.8L306.8 161.8L303.2 161.8ZM311.2 144.2L319.2 130.2L322.8 130.2L322.8 133.8L314.8 147.8L311.2 147.8ZM319.2 130.2L331.2 113.2L334.8 113.2L334.8 116.8L322.8 133.8L319.2 133.8ZM331.2 113.2L341.2 98.2L344.8 98.2L344.8 101.8L334.8 116.8L331.2 116.8ZM341.2 98.2L348.2 88.7L351.8 88.7L351.8 92.3L344.8 101.8L341.2 101.8ZM348.2 88.7L358.2 84.2L361.8 84.2L361.8 87.8L351.8 92.3L348.2 92.3ZM358.2 84.2L368.2 76.7L371.8 76.7L371.8 80.3L361.8 87.8L358.2 87.8ZM368.2 76.7L378.2 72.9L381.8 72.9L381.8 76.5L371.8 80.3L368.2 80.3ZM378.2 72.9L388.2 72.2L391.8 72.2L391.8 75.8L381.8 76.5L378.2 76.5ZM388.2 72.2L395.2 69.9L398.8 69.9L398.8 73.5L391.8 75.8L388.2 75.8ZM395.2 69.9L404.2 65.9L407.8 65.9L407.8 69.5L398.8 73.5L395.2 73.5ZM404.2 65.9L407.8 65.9L416.8 69.7L416.8 73.3L413.2 73.3L404.2 69.5ZM413.2 69.7L416.8 69.7L426.8 74.7L426.8 78.3L423.2 78.3L413.2 73.3ZM423.2 74.7L426.8 74.7L436.8 84.2L436.8 87.8L433.2 87.8L423.2 78.3ZM433.2 84.2L436.8 84.2L446.8 90.2L446.8 93.8L443.2 93.8L433.2 87.8ZM443.2 90.2L446.8 90.2L456.8 97.7L456.8 101.3L453.2 101.3L443.2 93.8ZM453.2 97.7L456.8 97.7L466.8 106.7L466.8 110.3L463.2 110.3L453.2 101.3ZM463.2 106.7L473.2 106.2L476.8 106.2L476.8 109.8L466.8 110.3L463.2 110.3ZM473.2 106.2L483.2 103.7L486.8 103.7L486.8 107.3L476.8 109.8L473.2 109.8ZM483.2 103.7L486.8 103.7L496.8 107.7L496.8 111.3L493.2 111.3L483.2 107.3ZM493.2 107.7L496.8 107.7L506.8 110.7L506.8 114.3L503.2 114.3L493.2 111.3ZM503.2 110.7L506.8 110.7L511.8 112.2L511.8 115.8L508.2 115.8L503.2 114.3ZM508.2 112.2L511.8 112.2L521.8 117.7L521.8 121.3L518.2 121.3L508.2 115.8ZM518.2 117.7L521.8 117.7L531.8 126.2L531.8 129.8L528.2 129.8L518.2 121.3ZM528.2 126.2L531.8 126.2L541.8 134.2L541.8 137.8L538.2 137.8L528.2 129.8ZM538.2 134.2L541.8 134.2L551.8 142.2L551.8 145.8L548.2 145.8L538.2 137.8ZM548.2 142.2L551.8 142.2L561.8 150.2L561.8 153.8L558.2 153.8L548.2 145.8ZM558.2 150.2L561.8 150.2L571.8 152.4L571.8 156L568.2 156L558.2 153.8ZM568.2 152.4L571.8 152.4L581.8 152.7L581.8 156.3L578.2 156.3L568.2 156ZM578.2 152.7L581.8 152.7L591.8 154.2L591.8 157.8L588.2 157.8L578.2 156.3ZM588.2 154.2L591.8 154.2L601.8 155.7L601.8 159.3L598.2 159.3L588.2 157.8ZM598.2 155.7L601.8 155.7L611.8 159.2L611.8 162.8L608.2 162.8L598.2 159.3ZM608.2 159.2L616.2 158.4L619.8 158.4L619.8 162L611.8 162.8L608.2 162.8ZM616.2 158.4L619.8 158.4L631.8 160.7L631.8 164.3L628.2 164.3L616.2 162ZM628.2 160.7L631.8 160.7L641.8 164.7L641.8 168.3L638.2 168.3L628.2 164.3ZM638.2 164.7L641.8 164.7L651.8 167.7L651.8 171.3L648.2 171.3L638.2 168.3ZM648.2 167.7L651.8 167.7L661.8 174.7L661.8 178.3L658.2 178.3L648.2 171.3ZM658.2 174.7L661.8 174.7L671.8 186.2L671.8 189.8L668.2 189.8L658.2 178.3ZM668.2 186.2L671.8 186.2L678.8 196.2L678.8 199.8L675.2 199.8L668.2 189.8ZM675.2 196.2L678.8 196.2L685.8 208.2L685.8 211.8L682.2 211.8L675.2 199.8ZM682.2 208.2L685.8 208.2L691.8 218.2L691.8 221.8L688.2 221.8L682.2 211.8ZM688.2 218.2L691.8 218.2L696.3 228.2L696.3 231.8L692.7 231.8L688.2 221.8ZM692.7 228.2L696.3 228.2L700.8 238.2L700.8 241.8L697.2 241.8L692.7 231.8ZM697.2 238.2L700.8 238.2L705.8 248.2L705.8 251.8L702.2 251.8L697.2 241.8ZM702.2 248.2L705.8 248.2L710.3 258.2L710.3 261.8L706.7 261.8L702.2 251.8ZM706.7 258.2L710.3 258.2L714.3 268.2L714.3 271.8L710.7 271.8L706.7 261.8ZM710.7 268.2L714.3 268.2L717.3 278.2L717.3 281.8L713.7 281.8L710.7 271.8ZM713.7 278.2L717.3 278.2L721.3 288.2L721.3 291.8L717.7 291.8L713.7 281.8ZM717.7 288.2L721.3 288.2L724.3 298.2L724.3 301.8L720.7 301.8L717.7 291.8ZM720.7 298.2L724.3 298.2L730.3 318.2L730.3 321.8L726.7 321.8L720.7 301.8ZM726.7 318.2L730.3 318.2L735.8 338.2L735.8 341.8L732.2 341.8L726.7 321.8ZM732.2 338.2L735.8 338.2L740.8 358.2L740.8 361.8L737.2 361.8L732.2 341.8ZM737.2 358.2L740.8 358.2L746.8 378.2L746.8 381.8L743.2 381.8L737.2 361.8ZM743.2 378.2L746.8 378.2L753.3 398.2L753.3 401.8L749.7 401.8L743.2 381.8ZM749.7 398.2L753.3 398.2L758.3 418.2L758.3 421.8L754.7 421.8L749.7 401.8ZM754.7 418.2L758.3 418.2L763.3 438.2L763.3 441.8L759.7 441.8L754.7 421.8ZM759.7 438.2L763.3 438.2L766.3 448.2L766.3 451.8L762.7 451.8L759.7 441.8ZM762.7 448.2L766.3 448.2L771.8 468.2L771.8 471.8L768.2 471.8L762.7 451.8ZM768.2 468.2L771.8 468.2L779.8 496.2L779.8 499.8L776.2 499.8L768.2 471.8ZM776.2 496.2L779.8 496.2L787.8 518.2L787.8 521.8L784.2 521.8L776.2 499.8ZM784.2 518.2L787.8 518.2L795.8 538.2L795.8 541.8L792.2 541.8L784.2 521.8ZM792.2 538.2L795.8 538.2L801.8 556.2L801.8 559.8L798.2 559.8L792.2 541.8ZM798.2 556.2L801.8 556.2L807.8 576.2L807.8 579.8L804.2 579.8L798.2 559.8ZM804.2 576.2L807.8 576.2L813.8 600.2L813.8 603.8L810.2 603.8L804.2 579.8ZM810.2 600.2L813.8 600.2L821.8 622.2L821.8 625.8L818.2 625.8L810.2 603.8ZM818.2 622.2L821.8 622.2L829.8 648.2L829.8 651.8L826.2 651.8L818.2 625.8ZM826.2 648.2L829.8 648.2L839.8 672.2L839.8 675.8L836.2 675.8L826.2 651.8ZM836.2 672.2L839.8 672.2L849.8 694.2L849.8 697.8L846.2 697.8L836.2 675.8ZM846.2 694.2L849.8 694.2L857.8 718.2L857.8 721.8L854.2 721.8L846.2 697.8ZM854.2 718.2L857.8 718.2L865.8 742.2L865.8 745.8L862.2 745.8L854.2 721.8ZM862.2 742.2L865.8 742.2L875.8 764.2L875.8 767.8L872.2 767.8L862.2 745.8ZM872.2 764.2L875.8 764.2L885.8 784.2L885.8 787.8L882.2 787.8L872.2 767.8ZM882.2 784.2L885.8 784.2L895.8 806.2L895.8 809.8L892.2 809.8L882.2 787.8ZM892.2 806.2L895.8 806.2L907.8 828.2L907.8 831.8L904.2 831.8L892.2 809.8ZM904.2 828.2L907.8 828.2L918.3 848.2L918.3 851.8L914.7 851.8L904.2 831.8ZM914.7 848.2L918.3 848.2L927.3 868.2L927.3 871.8L923.7 871.8L914.7 851.8ZM923.7 868.2L927.3 868.2L939.8 888.2L939.8 891.8L936.2 891.8L923.7 871.8ZM936.2 888.2L939.8 888.2L955.3 908.2L955.3 911.8L951.7 911.8L936.2 891.8ZM951.7 908.2L955.3 908.2L970.8 928.2L970.8 931.8L967.2 931.8L951.7 911.8ZM967.2 928.2L970.8 928.2L987.3 948.2L987.3 951.8L983.7 951.8L967.2 931.8ZM983.7 948.2L987.3 948.2L999.3 958.2L999.3 961.8L995.7 961.8L983.7 951.8ZM995.7 958.2L999.3 958.2L1013.8 970.2L1013.8 973.8L1010.2 973.8L995.7 961.8ZM1010.2 970.2L1013.8 970.2L1031.8 982.2L1031.8 985.8L1028.2 985.8L1010.2 973.8ZM1028.2 982.2L1031.8 982.2L1051.8 991.2L1051.8 994.8L1048.2 994.8L1028.2 985.8ZM1048.2 991.2L1051.8 991.2L1063.8 997.2L1063.8 1000.8L1060.2 1000.8L1048.2 994.8ZM1060.2 997.2L1063.8 997.2L1081.8 1004.2L1081.8 1007.8L1078.2 1007.8L1060.2 1000.8ZM1078.2 1004.2L1081.8 1004.2L1101.8 1005.2L1101.8 1008.8L1098.2 1008.8L1078.2 1007.8ZM1098.2 1005.2L1118.2 1001.2L1121.8 1001.2L1121.8 1004.8L1101.8 1008.8L1098.2 1008.8ZM1118.2 1001.2L1125.2 990.2L1128.8 990.2L1128.8 993.8L1121.8 1004.8L1118.2 1004.8ZM1125.2 990.2L1148.2 981.7L1151.8 981.7L1151.8 985.3L1128.8 993.8L1125.2 993.8ZM1148.2 981.7L1168.2 969.7L1171.8 969.7L1171.8 973.3L1151.8 985.3L1148.2 985.3ZM1168.2 969.7L1188.2 959.7L1191.8 959.7L1191.8 963.3L1171.8 973.3L1168.2 973.3ZM1188.2 959.7L1208.2 945.2L1211.8 945.2L1211.8 948.8L1191.8 963.3L1188.2 963.3ZM1208.2 945.2L1228.2 931.8L1231.8 931.8L1231.8 935.4L1211.8 948.8L1208.2 948.8ZM1228.2 931.8L1248.2 916.8L1251.8 916.8L1251.8 920.4L1231.8 935.4L1228.2 935.4ZM1248.2 916.8L1258.2 905.7L1261.8 905.7L1261.8 909.3L1251.8 920.4L1248.2 920.4ZM1258.2 905.7L1273.2 895.8L1276.8 895.8L1276.8 899.4L1261.8 909.3L1258.2 909.3ZM1273.2 895.8L1288.2 884.8L1291.8 884.8L1291.8 888.4L1276.8 899.4L1273.2 899.4ZM1288.2 884.8L1303.2 871L1306.8 871L1306.8 874.6L1291.8 888.4L1288.2 888.4ZM1303.2 871L1318.2 858.8L1321.8 858.8L1321.8 862.4L1306.8 874.6L1303.2 874.6ZM1318.2 858.8L1333.2 848.3L1336.8 848.3L1336.8 851.9L1321.8 862.4L1318.2 862.4ZM1333.2 848.3L1348.2 834.6L1351.8 834.6L1351.8 838.2L1336.8 851.9L1333.2 851.9ZM1348.2 834.6L1363.2 824L1366.8 824L1366.8 827.6L1351.8 838.2L1348.2 838.2ZM1363.2 824L1378.2 816.4L1381.8 816.4L1381.8 820L1366.8 827.6L1363.2 827.6ZM1378.2 816.4L1382.2 813.2L1385.8 813.2L1385.8 816.8L1381.8 820L1378.2 820ZM1382.2 813.2L1398.2 810.2L1401.8 810.2L1401.8 813.8L1385.8 816.8L1382.2 816.8ZM1398.2 810.2L1461.8 810.2L1461.8 813.8L1398.2 813.8ZM1458.2 810.2L1461.8 810.2L1481.8 811.2L1481.8 814.8L1478.2 814.8L1458.2 813.8ZM1478.2 811.2L1481.8 811.2L1501.8 813.2L1501.8 816.8L1498.2 816.8L1478.2 814.8ZM1498.2 813.2L1501.8 813.2L1521.8 815.2L1521.8 818.8L1518.2 818.8L1498.2 816.8ZM1518.2 815.2L1521.8 815.2L1541.8 818.2L1541.8 821.8L1538.2 821.8L1518.2 818.8ZM1538.2 818.2L1541.8 818.2L1561.8 820.2L1561.8 823.8L1558.2 823.8L1538.2 821.8ZM1558.2 820.2L1561.8 820.2L1581.8 824.2L1581.8 827.8L1578.2 827.8L1558.2 823.8ZM1578.2 824.2L1581.8 824.2L1599.8 826.2L1599.8 829.8L1596.2 829.8L1578.2 827.8Z"/>
<path fill="#ff00ff" stroke="#ff00ff" stroke-width="4.4" stroke-linejoin="round" fill-rule="nonzero" d="M126.2 227.2L129.8 227.2L136.8 235.7L136.8 239.3L133.2 239.3L126.2 230.8ZM133.2 235.7L136.8 235.7L146.8 240.2L146.8 243.8L143.2 243.8L133.2 239.3ZM143.2 240.2L161.8 240.2L161.8 243.8L143.2 243.8ZM158.2 240.2L165.2 237.2L168.8 237.2L168.8 240.8L161.8 243.8L158.2 243.8ZM165.2 237.2L173.2 230.2L176.8 230.2L176.8 233.8L168.8 240.8L165.2 240.8ZM173.2 230.2L181.2 220.2L184.8 220.2L184.8 223.8L176.8 233.8L173.2 233.8ZM181.2 220.2L187.2 214.2L190.8 214.2L190.8 217.8L184.8 223.8L181.2 223.8ZM187.2 214.2L206.8 214.2L206.8 217.8L187.2 217.8ZM203.2 214.2L206.8 214.2L216.8 214.7L216.8 218.3L213.2 218.3L203.2 217.8ZM213.2 214.7L216.8 214.7L224.8 218.7L224.8 222.3L221.2 222.3L213.2 218.3ZM221.2 218.7L224.8 218.7L236.8 219.7L236.8 223.3L233.2 223.3L221.2 222.3ZM233.2 219.7L243.2 218.2L246.8 218.2L246.8 221.8L236.8 223.3L233.2 223.3ZM243.2 218.2L253.2 211.7L256.8 211.7L256.8 215.3L246.8 221.8L243.2 221.8ZM253.2 211.7L264.2 203.7L267.8 203.7L267.8 207.3L256.8 215.3L253.2 215.3ZM264.2 203.7L272.2 197.2L275.8 197.2L275.8 200.8L267.8 207.3L264.2 207.3ZM272.2 197.2L281.2 188.7L284.8 188.7L284.8 192.3L275.8 200.8L272.2 200.8ZM281.2 188.7L290.2 180.2L293.8 180.2L293.8 183.8L284.8 192.3L281.2 192.3ZM290.2 180.2L303.2 166.2L306.8 166.2L306.8 169.8L293.8 183.8L290.2 183.8ZM303.2 166.2L314.2 154.2L317.8 154.2L317.8 157.8L306.8 169.8L303.2 169.8ZM314.2 154.2L323.2 141.2L326.8 141.2L326.8 144.8L317.8 157.8L314.2 157.8ZM323.2 141.2L331.2 128.2L334.8 128.2L334.8 131.8L326.8 144.8L323.2 144.8ZM331.2 128.2L343.2 113.2L346.8 113.2L346.8 116.8L334.8 131.8L331.2 131.8ZM343.2 113.2L348.2 104.7L351.8 104.7L351.8 108.3L346.8 116.8L343.2 116.8ZM348.2 104.7L358.2 94.7L361.8 94.7L361.8 98.3L351.8 108.3L348.2 108.3ZM358.2 94.7L368.2 86.7L371.8 86.7L371.8 90.3L361.8 98.3L358.2 98.3ZM368.2 86.7L378.2 83.7L381.8 83.7L381.8 87.3L371.8 90.3L368.2 90.3ZM378.2 83.7L388.2 83.2L391.8 83.2L391.8 86.8L381.8 87.3L378.2 87.3ZM388.2 83.2L391.8 83.2L398.8 88.7L398.8 92.3L395.2 92.3L388.2 86.8ZM395.2 88.7L398.8 88.7L404.8 97.7L404.8 101.3L401.2 101.3L395.2 92.3ZM401.2 97.7L404.8 97.7L411.8 104.7L411.8 108.3L408.2 108.3L401.2 101.3ZM408.2 104.7L411.8 104.7L421.8 105.4L421.8 109L418.2 109L408.2 108.3ZM418.2 105.4L421.8 105.4L429.8 110.7L429.8 114.3L426.2 114.3L418.2 109ZM426.2 110.7L429.8 110.7L436.8 119.7L436.8 123.3L433.2 123.3L426.2 114.3ZM433.2 119.7L436.8 119.7L446.8 124.2L446.8 127.8L443.2 127.8L433.2 123.3ZM443.2 124.2L446.8 124.2L456.8 130.2L456.8 133.8L453.2 133.8L443.2 127.8ZM453.2 130.2L456.8 130.2L466.8 134.9L466.8 138.5L463.2 138.5L453.2 133.8ZM463.2 134.9L476.8 134.9L476.8 138.5L463.2 138.5ZM473.2 134.9L483.2 132.9L486.8 132.9L486.8 136.5L476.8 138.5L473.2 138.5ZM483.2 132.9L486.8 132.9L501.8 133.4L501.8 137L498.2 137L483.2 136.5ZM498.2 133.4L511.8 133.4L511.8 137L498.2 137ZM508.2 133.4L511.8 133.4L521.8 139.7L521.8 143.3L518.2 143.3L508.2 137ZM518.2 139.7L521.8 139.7L531.8 150.7L531.8 154.3L528.2 154.3L518.2 143.3ZM528.2 150.7L531.8 150.7L541.8 159.2L541.8 162.8L538.2 162.8L528.2 154.3ZM538.2 159.2L541.8 159.2L551.8 167.7L551.8 171.3L548.2 171.3L538.2 162.8ZM548.2 167.7L551.8 167.7L561.8 175.2L561.8 178.8L558.2 178.8L548.2 171.3ZM558.2 175.2L561.8 175.2L571.8 180.7L571.8 184.3L568.2 184.3L558.2 178.8ZM568.2 180.7L571.8 180.7L581.8 182.7L581.8 186.3L578.2 186.3L568.2 184.3ZM578.2 182.7L581.8 182.7L591.8 185.7L591.8 189.3L588.2 189.3L578.2 186.3ZM588.2 185.7L591.8 185.7L601.8 189.7L601.8 193.3L598.2 193.3L588.2 189.3ZM598.2 189.7L601.8 189.7L612.8 197.7L612.8 201.3L609.2 201.3L598.2 193.3ZM609.2 197.7L612.8 197.7L625.8 208.2L625.8 211.8L622.2 211.8L609.2 201.3ZM622.2 208.2L625.8 208.2L637.8 218.2L637.8 221.8L634.2 221.8L622.2 211.8ZM634.2 218.2L637.8 218.2L647.3 228.2L647.3 231.8L643.7 231.8L634.2 221.8ZM643.7 228.2L647.3 228.2L652.3 238.2L652.3 241.8L648.7 241.8L643.7 231.8ZM648.7 238.2L652.3 238.2L656.8 248.2L656.8 251.8L653.2 251.8L648.7 241.8ZM653.2 248.2L656.8 248.2L660.8 258.2L660.8 261.8L657.2 261.8L653.2 251.8ZM657.2 258.2L660.8 258.2L663.8 268.2L663.8 271.8L660.2 271.8L657.2 261.8ZM660.2 268.2L663.8 268.2L666.8 278.2L666.8 281.8L663.2 281.8L660.2 271.8ZM663.2 278.2L666.8 278.2L669.3 288.2L669.3 291.8L665.7 291.8L663.2 281.8ZM665.7 288.2L669.3 288.2L672.3 298.2L672.3 301.8L668.7 301.8L665.7 291.8ZM668.7 298.2L672.3 298.2L675.3 308.2L675.3 311.8L671.7 311.8L668.7 301.8ZM671.7 308.2L675.3 308.2L678.8 318.2L678.8 321.8L675.2 321.8L671.7 311.8ZM675.2 318.2L678.8 318.2L684.8 338.2L684.8 341.8L681.2 341.8L675.2 321.8ZM681.2 338.2L684.8 338.2L689.8 358.2L689.8 361.8L686.2 361.8L681.2 341.8ZM686.2 358.2L689.8 358.2L694.3 378.2L694.3 381.8L690.7 381.8L686.2 361.8ZM690.7 378.2L694.3 378.2L698.3 398.2L698.3 401.8L694.7 401.8L690.7 381.8ZM694.7 398.2L698.3 398.2L701.8 418.2L701.8 421.8L698.2 421.8L694.7 401.8ZM698.2 418.2L701.8 418.2L705.3 438.2L705.3 441.8L701.7 441.8L698.2 421.8ZM701.7 438.2L705.3 438.2L707.3 448.2L707.3 451.8L703.7 451.8L701.7 441.8ZM703.7 448.2L707.3 448.2L713.8 473.2L713.8 476.8L710.2 476.8L703.7 451.8ZM710.2 473.2L713.8 473.2L719.3 503.2L719.3 506.8L715.7 506.8L710.2 476.8ZM715.7 503.2L719.3 503.2L724.3 533.2L724.3 536.8L720.7 536.8L715.7 506.8ZM720.7 533.2L724.3 533.2L728.8 563.2L728.8 566.8L725.2 566.8L720.7 536.8ZM725.2 563.2L728.8 563.2L734.3 598.2L734.3 601.8L730.7 601.8L725.2 566.8ZM730.7 598.2L734.3 598.2L740.8 634.2L740.8 637.8L737.2 637.8L730.7 601.8ZM737.2 634.2L740.8 634.2L747.8 667.2L747.8 670.8L744.2 670.8L737.2 637.8ZM744.2 667.2L747.8 667.2L753.8 700.2L753.8 703.8L750.2 703.8L744.2 670.8ZM750.2 700.2L753.8 700.2L760.8 732.2L760.8 735.8L757.2 735.8L750.2 703.8ZM757.2 732.2L760.8 732.2L766.8 765.2L766.8 768.8L763.2 768.8L757.2 735.8ZM763.2 765.2L766.8 765.2L770.8 788.2L770.8 791.8L767.2 791.8L763.2 768.8ZM767.2 788.2L770.8 788.2L774.8 808.2L774.8 811.8L771.2 811.8L767.2 791.8ZM771.2 808.2L774.8 808.2L779.8 828.2L779.8 831.8L776.2 831.8L771.2 811.8ZM776.2 828.2L779.8 828.2L786.3 848.2L786.3 851.8L782.7 851.8L776.2 831.8ZM782.7 848.2L786.3 848.2L792.3 868.2L792.3 871.8L788.7 871.8L782.7 851.8ZM788.7 868.2L792.3 868.2L798.3 888.2L798.3 891.8L794.7 891.8L788.7 871.8ZM794.7 888.2L798.3 888.2L806.3 908.2L806.3 911.8L802.7 911.8L794.7 891.8ZM802.7 908.2L806.3 908.2L814.8 928.2L814.8 931.8L811.2 931.8L802.7 911.8ZM811.2 928.2L814.8 928.2L819.8 938.2L819.8 941.8L816.2 941.8L811.2 931.8ZM816.2 938.2L819.8 938.2L826.8 948.2L826.8 951.8L823.2 951.8L816.2 941.8ZM823.2 948.2L826.8 948.2L838.8 968.2L838.8 971.8L835.2 971.8L823.2 951.8ZM835.2 968.2L838.8 968.2L844.8 975.2L844.8 978.8L841.2 978.8L835.2 971.8ZM841.2 975.2L844.8 975.2L851.8 982.2L851.8 985.8L848.2 985.8L841.2 978.8ZM848.2 982.2L851.8 982.2L861.8 987.2L861.8 990.8L858.2 990.8L848.2 985.8ZM858.2 987.2L861.8 987.2L871.8 991.7L871.8 995.3L868.2 995.3L858.2 990.8ZM868.2 991.7L871.8 991.7L881.8 996.7L881.8 1000.3L878.2 1000.3L868.2 995.3ZM878.2 996.7L881.8 996.7L891.8 999.2L891.8 1002.8L888.2 1002.8L878.2 1000.3ZM888.2 999.2L891.8 999.2L901.8 999.7L901.8 1003.3L898.2 1003.3L888.2 1002.8ZM898.2 999.7L901.8 999.7L921.8 1002.2L921.8 1005.8L918.2 1005.8L898.2 1003.3ZM918.2 1002.2L921.8 1002.2L941.8 1002.7L941.8 1006.3L938.2 1006.3L918.2 1005.8ZM938.2 1002.7L958.2 1002.2L961.8 1002.2L961.8 1005.8L941.8 1006.3L938.2 1006.3ZM958.2 1002.2L998.2 1001.2L1001.8 1001.2L1001.8 1004.8L961.8 1005.8L958.2 1005.8ZM998.2 1001.2L1024.8 1001.2L1024.8 1004.8L998.2 1004.8ZM1021.2 1001.2L1028.2 997.7L1031.8 997.7L1031.8 1001.3L1024.8 1004.8L1021.2 1004.8ZM1028.2 997.7L1058.2 997.2L1061.8 997.2L1061.8 1000.8L1031.8 1001.3L1028.2 1001.3ZM1058.2 997.2L1079.8 997.2L1079.8 1000.8L1058.2 1000.8ZM1076.2 997.2L1079.8 997.2L1085.8 1001.2L1085.8 1004.8L1082.2 1004.8L1076.2 1000.8ZM1082.2 1001.2L1090.2 996.7L1093.8 996.7L1093.8 1000.3L1085.8 1004.8L1082.2 1004.8ZM1090.2 996.7L1116.8 996.7L1116.8 1000.3L1090.2 1000.3ZM1113.2 996.7L1116.8 996.7L1123.8 998.7L1123.8 1002.3L1120.2 1002.3L1113.2 1000.3ZM1120.2 998.7L1128.2 993.7L1131.8 993.7L1131.8 997.3L1123.8 1002.3L1120.2 1002.3ZM1128.2 993.7L1156.8 993.7L1156.8 997.3L1128.2 997.3ZM1153.2 993.7L1198.2 993.2L1201.8 993.2L1201.8 996.8L1156.8 997.3L1153.2 997.3ZM1198.2 993.2L1203.2 989.7L1206.8 989.7L1206.8 993.3L1201.8 996.8L1198.2 996.8ZM1203.2 989.7L1206.8 989.7L1213.8 992.2L1213.8 995.8L1210.2 995.8L1203.2 993.3ZM1210.2 992.2L1223.2 990.7L1226.8 990.7L1226.8 994.3L1213.8 995.8L1210.2 995.8ZM1223.2 990.7L1236.2 987.7L1239.8 987.7L1239.8 991.3L1226.8 994.3L1223.2 994.3ZM1236.2 987.7L1298.2 987.2L1301.8 987.2L1301.8 990.8L1239.8 991.3L1236.2 991.3ZM1298.2 987.2L1321.2 985.2L1324.8 985.2L1324.8 988.8L1301.8 990.8L1298.2 990.8ZM1321.2 985.2L1340.2 981.2L1343.8 981.2L1343.8 984.8L1324.8 988.8L1321.2 988.8ZM1340.2 981.2L1359.2 979.2L1362.8 979.2L1362.8 982.8L1343.8 984.8L1340.2 984.8ZM1359.2 979.2L1366.2 973.7L1369.8 973.7L1369.8 977.3L1362.8 982.8L1359.2 982.8ZM1366.2 973.7L1369.8 973.7L1377.8 974.2L1377.8 977.8L1374.2 977.8L1366.2 977.3ZM1374.2 974.2L1377.8 974.2L1397.8 976.2L1397.8 979.8L1394.2 979.8L1374.2 977.8ZM1394.2 976.2L1397.8 976.2L1411.8 980.2L1411.8 983.8L1408.2 983.8L1394.2 979.8ZM1408.2 980.2L1411.8 980.2L1441.8 981.2L1441.8 984.8L1438.2 984.8L1408.2 983.8ZM1438.2 981.2L1441.8 981.2L1468.8 982.2L1468.8 985.8L1465.2 985.8L1438.2 984.8ZM1465.2 982.2L1468.8 982.2L1599.8 983.2L1599.8 986.8L1596.2 986.8L1465.2 985.8Z"/>
<path fill="#808000" stroke="#808000" stroke-width="4.4" stroke-linejoin="round" fill-rule="nonzero" d="M125.2 572.2L129.2 558.2L132.8 558.2L132.8 561.8L128.8 575.8L125.2 575.8ZM129.2 558.2L134.2 550.2L137.8 550.2L137.8 553.8L132.8 561.8L129.2 561.8ZM134.2 550.2L138.2 543.2L141.8 543.2L141.8 546.8L137.8 553.8L134.2 553.8ZM138.2 543.2L148.2 531.2L151.8 531.2L151.8 534.8L141.8 546.8L138.2 546.8ZM148.2 531.2L154.2 509.2L157.8 509.2L157.8 512.8L151.8 534.8L148.2 534.8ZM154.2 509.2L160.2 485.2L163.8 485.2L163.8 488.8L157.8 512.8L154.2 512.8ZM160.2 485.2L166.2 463.2L169.8 463.2L169.8 466.8L163.8 488.8L160.2 488.8ZM166.2 463.2L172.2 439.2L175.8 439.2L175.8 442.8L169.8 466.8L166.2 466.8ZM172.2 439.2L178.2 417.2L181.8 417.2L181.8 420.8L175.8 442.8L172.2 442.8ZM178.2 417.2L186.2 393.2L189.8 393.2L189.8 396.8L181.8 420.8L178.2 420.8ZM186.2 393.2L194.2 375.2L197.8 375.2L197.8 378.8L189.8 396.8L186.2 396.8ZM194.2 375.2L204.2 359.2L207.8 359.2L207.8 362.8L197.8 378.8L194.2 378.8ZM204.2 359.2L214.2 343.2L217.8 343.2L217.8 346.8L207.8 362.8L204.2 362.8ZM214.2 343.2L226.2 334.2L229.8 334.2L229.8 337.8L217.8 346.8L214.2 346.8ZM226.2 334.2L240.2 325.2L243.8 325.2L243.8 328.8L229.8 337.8L226.2 337.8ZM240.2 325.2L254.2 317.2L257.8 317.2L257.8 320.8L243.8 328.8L240.2 328.8ZM254.2 317.2L266.2 307.2L269.8 307.2L269.8 310.8L257.8 320.8L254.2 320.8ZM266.2 307.2L278.2 297.2L281.8 297.2L281.8 300.8L269.8 310.8L266.2 310.8ZM278.2 297.2L290.2 286.2L293.8 286.2L293.8 289.8L281.8 300.8L278.2 300.8ZM290.2 286.2L306.2 268.2L309.8 268.2L309.8 271.8L293.8 289.8L290.2 289.8ZM306.2 268.2L326.2 250.2L329.8 250.2L329.8 253.8L309.8 271.8L306.2 271.8ZM326.2 250.2L338.2 232.2L341.8 232.2L341.8 235.8L329.8 253.8L326.2 253.8ZM338.2 232.2L350.2 212.2L353.8 212.2L353.8 215.8L341.8 235.8L338.2 235.8ZM350.2 212.2L366.2 198.2L369.8 198.2L369.8 201.8L353.8 215.8L350.2 215.8ZM366.2 198.2L387.2 184.2L390.8 184.2L390.8 187.8L369.8 201.8L366.2 201.8ZM387.2 184.2L390.8 184.2L398.3 198.2L398.3 201.8L394.7 201.8L387.2 187.8ZM394.7 198.2L398.3 198.2L404.3 218.2L404.3 221.8L400.7 221.8L394.7 201.8ZM400.7 218.2L404.3 218.2L409.8 224.2L409.8 227.8L406.2 227.8L400.7 221.8ZM406.2 224.2L409.8 224.2L421.8 226.7L421.8 230.3L418.2 230.3L406.2 227.8ZM418.2 226.7L421.8 226.7L431.8 229.2L431.8 232.8L428.2 232.8L418.2 230.3ZM428.2 229.2L431.8 229.2L441.8 232.2L441.8 235.8L438.2 235.8L428.2 232.8ZM438.2 232.2L441.8 232.2L451.8 234.7L451.8 238.3L448.2 238.3L438.2 235.8ZM448.2 234.7L451.8 234.7L461.8 236.7L461.8 240.3L458.2 240.3L448.2 238.3ZM458.2 236.7L468.2 234.7L471.8 234.7L471.8 238.3L461.8 240.3L458.2 240.3ZM468.2 234.7L478.2 233.2L481.8 233.2L481.8 236.8L471.8 238.3L468.2 238.3ZM478.2 233.2L488.2 230.7L491.8 230.7L491.8 234.3L481.8 236.8L478.2 236.8ZM488.2 230.7L498.2 229.7L501.8 229.7L501.8 233.3L491.8 234.3L488.2 234.3ZM498.2 229.7L506.2 227.2L509.8 227.2L509.8 230.8L501.8 233.3L498.2 233.3ZM506.2 227.2L509.8 227.2L516.8 229.7L516.8 233.3L513.2 233.3L506.2 230.8ZM513.2 229.7L516.8 229.7L526.8 238.2L526.8 241.8L523.2 241.8L513.2 233.3ZM523.2 238.2L526.8 238.2L536.8 246.7L536.8 250.3L533.2 250.3L523.2 241.8ZM533.2 246.7L536.8 246.7L546.8 251.7L546.8 255.3L543.2 255.3L533.2 250.3ZM543.2 251.7L546.8 251.7L556.8 257.7L556.8 261.3L553.2 261.3L543.2 255.3ZM553.2 257.7L556.8 257.7L565.8 262.2L565.8 265.8L562.2 265.8L553.2 261.3ZM562.2 262.2L565.8 262.2L571.8 263.7L571.8 267.3L568.2 267.3L562.2 265.8ZM568.2 263.7L571.8 263.7L581.8 267.2L581.8 270.8L578.2 270.8L568.2 267.3ZM578.2 267.2L581.8 267.2L591.8 271.7L591.8 275.3L588.2 275.3L578.2 270.8ZM588.2 271.7L591.8 271.7L601.8 274.2L601.8 277.8L598.2 277.8L588.2 275.3ZM598.2 274.2L601.8 274.2L611.8 279.7L611.8 283.3L608.2 283.3L598.2 277.8ZM608.2 279.7L611.8 279.7L621.8 288.7L621.8 292.3L618.2 292.3L608.2 283.3ZM618.2 288.7L621.8 288.7L631.8 296.7L631.8 300.3L628.2 300.3L618.2 292.3ZM628.2 296.7L631.8 296.7L641.8 302.2L641.8 305.8L638.2 305.8L628.2 300.3ZM638.2 302.2L641.8 302.2L651.8 308.7L651.8 312.3L648.2 312.3L638.2 305.8ZM648.2 308.7L651.8 308.7L656.8 318.2L656.8 321.8L653.2 321.8L648.2 312.3ZM653.2 318.2L656.8 318.2L661.8 326.2L661.8 329.8L658.2 329.8L653.2 321.8ZM658.2 326.2L661.8 326.2L666.8 338.2L666.8 341.8L663.2 341.8L658.2 329.8ZM663.2 338.2L666.8 338.2L675.3 358.2L675.3 361.8L671.7 361.8L663.2 341.8ZM671.7 358.2L675.3 358.2L684.8 378.2L684.8 381.8L681.2 381.8L671.7 361.8ZM681.2 378.2L684.8 378.2L694.3 398.2L694.3 401.8L690.7 401.8L681.2 381.8ZM690.7 398.2L694.3 398.2L701.8 418.2L701.8 421.8L698.2 421.8L690.7 401.8ZM698.2 418.2L701.8 418.2L710.8 438.2L710.8 441.8L707.2 441.8L698.2 421.8ZM707.2 438.2L710.8 438.2L716.3 448.2L716.3 451.8L712.7 451.8L707.2 441.8ZM712.7 448.2L716.3 448.2L724.8 472.2L724.8 475.8L721.2 475.8L712.7 451.8ZM721.2 472.2L724.8 472.2L736.8 488.2L736.8 491.8L733.2 491.8L721.2 475.8ZM733.2 488.2L736.8 488.2L744.8 504.7L744.8 508.3L741.2 508.3L733.2 491.8ZM741.2 504.7L744.8 504.7L753.8 521.2L753.8 524.8L750.2 524.8L741.2 508.3ZM750.2 521.2L753.8 521.2L762.8 538.2L762.8 541.8L759.2 541.8L750.2 524.8ZM759.2 538.2L762.8 538.2L769.8 547.2L769.8 550.8L766.2 550.8L759.2 541.8ZM766.2 547.2L769.8 547.2L778.8 554.7L778.8 558.3L775.2 558.3L766.2 550.8ZM775.2 554.7L778.8 554.7L789.8 563.2L789.8 566.8L786.2 566.8L775.2 558.3ZM786.2 563.2L789.8 563.2L801.8 571.2L801.8 574.8L798.2 574.8L786.2 566.8ZM798.2 571.2L801.8 571.2L811.8 582.2L811.8 585.8L808.2 585.8L798.2 574.8ZM808.2 582.2L811.8 582.2L820.8 590.2L820.8 593.8L817.2 593.8L808.2 585.8ZM817.2 590.2L820.8 590.2L831.8 600.2L831.8 603.8L828.2 603.8L817.2 593.8ZM828.2 600.2L831.8 600.2L841.8 605.7L841.8 609.3L838.2 609.3L828.2 603.8ZM838.2 605.7L841.8 605.7L851.8 610.7L851.8 614.3L848.2 614.3L838.2 609.3ZM848.2 610.7L851.8 610.7L861.8 618.2L861.8 621.8L858.2 621.8L848.2 614.3ZM858.2 618.2L861.8 618.2L871.8 628.2L871.8 631.8L868.2 631.8L858.2 621.8ZM868.2 628.2L871.8 628.2L885.8 632.2L885.8 635.8L882.2 635.8L868.2 631.8ZM882.2 632.2L885.8 632.2L901.8 646.2L901.8 649.8L898.2 649.8L882.2 635.8ZM898.2 646.2L901.8 646.2L917.8 654.2L917.8 657.8L914.2 657.8L898.2 649.8ZM914.2 654.2L917.8 654.2L929.8 668.2L929.8 671.8L926.2 671.8L914.2 657.8ZM926.2 668.2L929.8 668.2L945.8 678.2L945.8 681.8L942.2 681.8L926.2 671.8ZM942.2 678.2L945.8 678.2L961.8 690.2L961.8 693.8L958.2 693.8L942.2 681.8ZM958.2 690.2L961.8 690.2L977.8 700.2L977.8 703.8L974.2 703.8L958.2 693.8ZM974.2 700.2L977.8 700.2L993.8 710.2L993.8 713.8L990.2 713.8L974.2 703.8ZM990.2 710.2L993.8 710.2L1005.8 720.2L1005.8 723.8L1002.2 723.8L990.2 713.8ZM1002.2 720.2L1005.8 720.2L1021.8 726.2L1021.8 729.8L1018.2 729.8L1002.2 723.8ZM1018.2 726.2L1021.8 726.2L1037.8 738.2L1037.8 741.8L1034.2 741.8L1018.2 729.8ZM1034.2 738.2L1037.8 738.2L1049.8 746.2L1049.8 749.8L1046.2 749.8L1034.2 741.8ZM1046.2 746.2L1049.8 746.2L1065.8 760.2L1065.8 763.8L1062.2 763.8L1046.2 749.8ZM1062.2 760.2L1065.8 760.2L1085.8 776.2L1085.8 779.8L1082.2 779.8L1062.2 763.8ZM1082.2 776.2L1085.8 776.2L1105.8 790.2L1105.8 793.8L1102.2 793.8L1082.2 779.8ZM1102.2 790.2L1105.8 790.2L1125.8 806.2L1125.8 809.8L1122.2 809.8L1102.2 793.8ZM1122.2 806.2L1125.8 806.2L1145.8 818.2L1145.8 821.8L1142.2 821.8L1122.2 809.8ZM1142.2 818.2L1145.8 818.2L1165.8 836.2L1165.8 839.8L1162.2 839.8L1142.2 821.8ZM1162.2 836.2L1165.8 836.2L1185.8 848.2L1185.8 851.8L1182.2 851.8L1162.2 839.8ZM1182.2 848.2L1185.8 848.2L1205.8 862.2L1205.8 865.8L1202.2 865.8L1182.2 851.8ZM1202.2 862.2L1205.8 862.2L1225.8 874.2L1225.8 877.8L1222.2 877.8L1202.2 865.8ZM1222.2 874.2L1225.8 874.2L1241.8 888.2L1241.8 891.8L1238.2 891.8L1222.2 877.8ZM1238.2 888.2L1241.8 888.2L1265.8 902.2L1265.8 905.8L1262.2 905.8L1238.2 891.8ZM1262.2 902.2L1265.8 902.2L1289.8 914.2L1289.8 917.8L1286.2 917.8L1262.2 905.8ZM1286.2 914.2L1289.8 914.2L1303.8 923.2L1303.8 926.8L1300.2 926.8L1286.2 917.8ZM1300.2 923.2L1303.8 923.2L1321.8 934.2L1321.8 937.8L1318.2 937.8L1300.2 926.8ZM1318.2 934.2L1321.8 934.2L1341.8 946.2L1341.8 949.8L1338.2 949.8L1318.2 937.8ZM1338.2 946.2L1341.8 946.2L1368.8 960.2L1368.8 963.8L1365.2 963.8L1338.2 949.8ZM1365.2 960.2L1368.8 960.2L1396.8 972.2L1396.8 975.8L1393.2 975.8L1365.2 963.8ZM1393.2 972.2L1396.8 972.2L1423.8 986.2L1423.8 989.8L1420.2 989.8L1393.2 975.8ZM1420.2 986.2L1423.8 986.2L1450.8 997.2L1450.8 1000.8L1447.2 1000.8L1420.2 989.8ZM1447.2 997.2L1450.8 997.2L1486.8 1008.2L1486.8 1011.8L1483.2 1011.8L1447.2 1000.8ZM1483.2 1008.2L1486.8 1008.2L1523.8 1021.2L1523.8 1024.8L1520.2 1024.8L1483.2 1011.8ZM1520.2 1021.2L1523.8 1021.2L1559.8 1032.2L1559.8 1035.8L1556.2 1035.8L1520.2 1024.8ZM1556.2 1032.2L1559.8 1032.2L1599.8 1043.2L1599.8 1046.8L1596.2 1046.8L1556.2 1035.8Z"/>
<g fill="#000">
<rect x="123" y="32.5" width="1481" height="6"/><rect x="123" y="32.5" width="5" height="1092"/><rect x="123" y="1119" width="1481" height="5"/><rect x="1598.5" y="32.5" width="5.5" height="1092"/>
<rect x="114.5" y="34.7" width="9" height="3"/><rect x="101.5" y="102.5" width="22" height="3"/><rect x="114.5" y="170.3" width="9" height="3"/><rect x="101.5" y="238.2" width="22" height="3"/><rect x="114.5" y="306.0" width="9" height="3"/><rect x="101.5" y="373.8" width="22" height="3"/><rect x="114.5" y="441.6" width="9" height="3"/><rect x="101.5" y="509.4" width="22" height="3"/><rect x="114.5" y="577.3" width="9" height="3"/><rect x="101.5" y="645.1" width="22" height="3"/><rect x="114.5" y="712.9" width="9" height="3"/><rect x="101.5" y="780.7" width="22" height="3"/><rect x="114.5" y="848.5" width="9" height="3"/><rect x="101.5" y="916.4" width="22" height="3"/><rect x="114.5" y="984.2" width="9" height="3"/><rect x="101.5" y="1052.0" width="22" height="3"/><rect x="114.5" y="1119.8" width="9" height="3"/>
<rect x="123.0" y="1121" width="5.4" height="27.5"/><rect x="246.1" y="1121" width="5" height="14.5"/><rect x="368.9" y="1121" width="5.4" height="27.5"/><rect x="492.0" y="1121" width="5" height="14.5"/><rect x="614.8" y="1121" width="5.4" height="27.5"/><rect x="737.9" y="1121" width="5" height="14.5"/><rect x="860.6" y="1121" width="5.4" height="27.5"/><rect x="983.8" y="1121" width="5" height="14.5"/><rect x="1106.5" y="1121" width="5.4" height="27.5"/><rect x="1229.7" y="1121" width="5" height="14.5"/><rect x="1352.4" y="1121" width="5.4" height="27.5"/><rect x="1475.5" y="1121" width="5" height="14.5"/><rect x="1598.3" y="1121" width="5.4" height="27.5"/>
</g>
<text class="tl" transform="translate(86.5,1194.8) scale(0.9,1)">200</text><text class="tl" transform="translate(332.4,1194.8) scale(0.9,1)">300</text><text class="tl" transform="translate(578.3,1194.8) scale(0.9,1)">400</text><text class="tl" transform="translate(824.1,1194.8) scale(0.9,1)">500</text><text class="tl" transform="translate(1070.0,1194.8) scale(0.9,1)">600</text><text class="tl" transform="translate(1315.9,1194.8) scale(0.9,1)">700</text><text class="tl" transform="translate(1561.8,1194.8) scale(0.9,1)">800</text>
<text class="ti" x="651.5" y="1290.5" font-size="56" letter-spacing="0.8">Wavelength/nm</text>
<text class="ti" transform="translate(68.4,849) rotate(-90) scale(0.984,1.01)" x="0" y="0" font-size="60" letter-spacing="0">Absorbance/a.u.</text>
<text class="lb" x="1008.1" y="212.2">c</text><text class="lb" x="844" y="414.1">d</text><text class="lb" x="601" y="540.8">e</text><text class="lb" x="1033.5" y="623.5">f</text><text class="lb" x="439.3" y="708.7">b</text><text class="lb" x="291.5" y="943.8">a</text>
<line x1="920.6" y1="292.4" x2="958.7" y2="261.5" stroke="#000" stroke-width="1.3" stroke-dasharray="3 3"/><polygon points="978.1,245.7 963.1,266.9 954.3,256.0" fill="#000"/><line x1="769.3" y1="446.4" x2="792.4" y2="440.4" stroke="#000" stroke-width="1.3" stroke-dasharray="3 3"/><polygon points="818.5,433.6 794.1,447.2 790.6,433.6" fill="#000"/><line x1="722" y1="543" x2="675.7" y2="534.2" stroke="#000" stroke-width="1.3" stroke-dasharray="8 6"/><polygon points="647.2,528.8 676.9,527.8 674.5,540.6" fill="#000"/><line x1="920.7" y1="657.6" x2="951.8" y2="645.3" stroke="#000" stroke-width="1.3" stroke-dasharray="3 3"/><polygon points="976.9,635.3 954.4,651.8 949.2,638.8" fill="#000"/><line x1="530" y1="629.5" x2="519.1" y2="640.6" stroke="#000" stroke-width="1.3" stroke-dasharray="3 3"/><polygon points="502.3,657.8 514.4,636.1 523.7,645.2" fill="#000"/><line x1="372" y1="897.5" x2="356.2" y2="905.3" stroke="#000" stroke-width="1.3" stroke-dasharray="3 3"/><polygon points="333.8,916.4 353.1,899.0 359.3,911.6" fill="#000"/>
</svg>
</body></html>
